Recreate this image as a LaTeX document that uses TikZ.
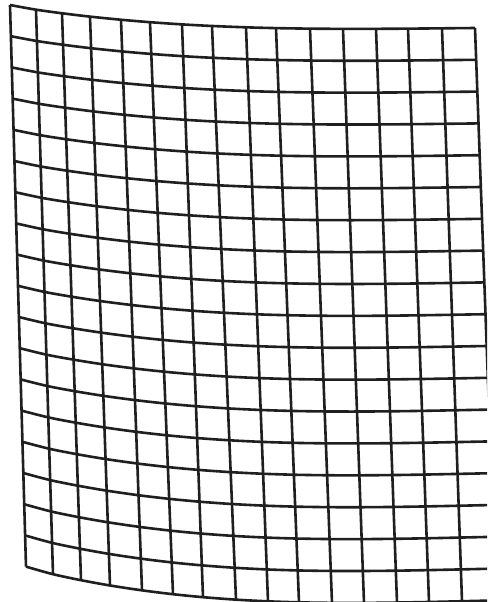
\documentclass[tikz,border=0pt]{standalone}
\begin{document}
\begin{tikzpicture}[x=1pt,y=-1pt,
  gridline/.style={line width=2.6pt,draw=black!88,line join=miter,line cap=butt}]
\useasboundingbox[fill=white] (0,0) rectangle (487,602);
\clip (0,0) rectangle (487,602);
\def\XT{{10,36,62,90,121,150,182,212,246,276,310,343,376,408,442,475}}
\def\XB{{26,53,81,110,142,173,203,236,268,299,332,364,397,429,462,496}}
% point computation: sets \px,\py for \u,\v
\def\gridpt#1#2{%
  \pgfmathsetmacro\xt{\XT[#1]}%
  \pgfmathsetmacro\xb{\XB[#1]}%
  \pgfmathsetmacro\px{\xt+(\xb-\xt)*#2/18}%
  \pgfmathsetmacro\xl{10+16*#2/18}%
  \pgfmathsetmacro\xr{475+21*#2/18}%
  \pgfmathsetmacro\tt{max(0.00001,min(1,(\px-\xl)/(\xr-\xl)))}%
  \pgfmathsetmacro\yl{5+31.2*#2}%
  \pgfmathsetmacro\yr{28+31.8*#2}%
  \pgfmathsetmacro\bb{11+7*#2/18}%
  \pgfmathsetmacro\py{\yl+(\yr-\yl)*\tt+\bb*sin(180*(\tt^0.8))}%
}
% horizontal lines
\foreach \v in {0,...,18}{
  \gdef\pts{}
  \foreach \u in {0,...,15}{
    \gridpt{\u}{\v}
    \xdef\pts{\pts (\px,\py)}
  }
  \edef\tmp{\noexpand\draw[gridline] plot[smooth] coordinates {\pts};}
  \tmp
}
% vertical lines
\foreach \u in {0,...,15}{
  \gdef\pts{}
  \foreach \v in {0,...,18}{
    \gridpt{\u}{\v}
    \xdef\pts{\pts (\px,\py)}
  }
  \edef\tmp{\noexpand\draw[gridline] plot[smooth] coordinates {\pts};}
  \tmp
}
\end{tikzpicture}
\end{document}
